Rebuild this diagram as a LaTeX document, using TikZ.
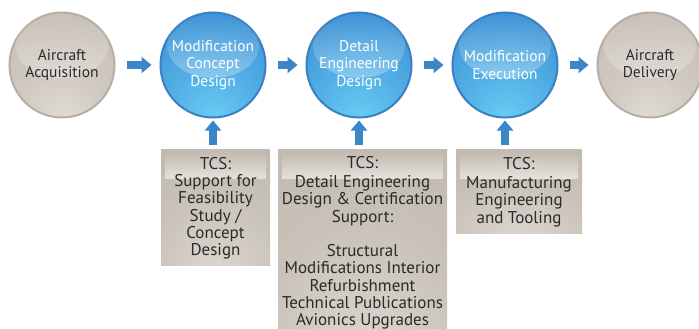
\documentclass[tikz,border=0pt]{standalone}
\usepackage{fontspec}
\setmainfont{PT Sans}
\usetikzlibrary{arrows.meta,fadings}
\definecolor{arrowblue}{HTML}{3A86C8}
\definecolor{bcyan}{HTML}{6CCEF3}
\definecolor{blight}{HTML}{55B3E8}
\definecolor{bmid}{HTML}{3C8ED2}
\definecolor{bdark}{HTML}{3F88CC}
\definecolor{brim}{HTML}{3A80C4}
\definecolor{glight}{HTML}{E0DCD6}
\definecolor{gmid}{HTML}{CFC8C0}
\definecolor{gdark}{HTML}{C2BAB1}
\definecolor{grim}{HTML}{B7AFA5}
\definecolor{boxlight}{HTML}{DDD9D3}
\definecolor{boxmid}{HTML}{C9C2B9}
\definecolor{boxdark}{HTML}{B9B1A7}
\definecolor{txtdark}{HTML}{2A2A2A}
\pgfdeclareradialshading{bluebub}{\pgfpoint{0bp}{-28bp}}{%
  color(0bp)=(bcyan); color(18bp)=(blight); color(45bp)=(bmid);
  color(78bp)=(bdark); color(100bp)=(bdark)}
\pgfdeclareradialshading{graybub}{\pgfpoint{0bp}{-28bp}}{%
  color(0bp)=(glight); color(22bp)=(gmid); color(60bp)=(gdark);
  color(100bp)=(gdark)}
\pgfdeclareradialshading{boxsh}{\pgfpoint{0bp}{-35bp}}{%
  color(0bp)=(boxlight); color(30bp)=(boxmid); color(70bp)=(boxdark);
  color(100bp)=(boxdark)}
\tikzset{
  bub/.style={circle, minimum size=105pt, inner sep=0pt, outer sep=0pt,
    align=center, font=\fontsize{15.5}{17.5}\selectfont},
  bluebubble/.style={bub, shading=bluebub, draw=brim, line width=2pt, text=white},
  graybubble/.style={bub, shading=graybub, draw=grim, line width=2pt, text=txtdark},
  gloss/.style={white, path fading=north, opacity=0.3},
  tcsbox/.style={rectangle, inner sep=0pt, outer sep=0pt, shading=boxsh},
  tcstext/.style={anchor=north, inner sep=0pt, align=center, text=txtdark,
    font=\fontsize{17}{17.3}\selectfont},
  flow/.style={arrowblue, line width=8pt,
    -{Triangle[width=16pt,length=10pt]}},
}
\begin{document}
\begin{tikzpicture}[x=1pt,y=-1pt]
\clip (0,0) rectangle (699,329);
\fill[white] (0,0) rectangle (699,329);

% bubbles
\node[graybubble] (c1) at (62,65) {};
\node[bluebubble] (c2) at (213,65) {};
\node[bluebubble] (c3) at (359,65) {};
\node[bluebubble] (c4) at (505,65) {};
\node[graybubble] (c5) at (650,65) {};
\foreach \n in {c1,c2,c3,c4,c5}{
  \fill[gloss] ([yshift=19pt]\n.center) ellipse (46pt and 32pt);
}
\node[bub, text=txtdark] (l1) at (c1) {Aircraft\\Acquisition};
\node[bub, text=white] (l2) at (c2) {Modification\\Concept\\Design};
\node[bub, text=white] (l3) at (c3) {Detail\\Engineering\\Design};
\node[bub, text=white] (l4) at (c4) {Modification\\Execution};
\node[bub, text=txtdark] (l5) at (c5) {Aircraft\\Delivery};

% horizontal arrows
\draw[flow, shorten <=12pt, shorten >=9pt] (c1) -- (c2);
\draw[flow, shorten <=12pt, shorten >=9pt] (c2) -- (c3);
\draw[flow, shorten <=12pt, shorten >=9pt] (c3) -- (c4);
\draw[flow, shorten <=12pt, shorten >=9pt] (c4) -- (c5);

% boxes
\node[tcsbox, minimum width=109pt, minimum height=116pt, anchor=north west] (b1) at (161,149) {};
\node[tcsbox, minimum width=169pt, minimum height=190pt, anchor=north west] (b2) at (278,149) {};
\node[tcsbox, minimum width=126pt, minimum height=84pt, anchor=north west] (b3) at (456,149) {};
\foreach \b in {b1,b2,b3}{
  \fill[white, path fading=north, opacity=0.55]
    ([xshift=4pt,yshift=-4pt]\b.north west) rectangle ([xshift=-4pt,yshift=-30pt]\b.north east);
}

\node[tcstext] (t1) at ([yshift=-8pt]b1.north) {TCS:\\Support for\\Feasibility\\Study /\\Concept\\Design};
\node[tcstext] (t2) at ([yshift=-7pt]b2.north) {TCS:\\[2pt]Detail Engineering\\Design \& Certification\\Support:\\[17pt]Structural\\Modifications Interior\\Refurbishment\\Technical Publications\\Avionics Upgrades};
\node[tcstext] (t3) at ([yshift=-8pt]b3.north) {TCS:\\[2pt]Manufacturing\\Engineering\\and Tooling};

% vertical arrows
\draw[flow, shorten <=4pt, shorten >=3pt] (c2.south |- b1.north) -- (c2.south);
\draw[flow, shorten <=4pt, shorten >=3pt] (c3.south |- b2.north) -- (c3.south);
\draw[flow, shorten <=4pt, shorten >=3pt] (c4.south |- b3.north) -- (c4.south);
\end{tikzpicture}
\end{document}
